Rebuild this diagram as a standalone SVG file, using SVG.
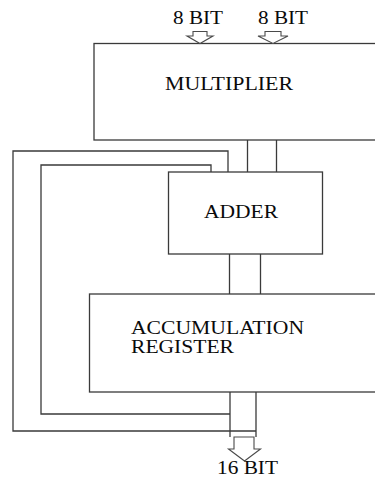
<svg xmlns="http://www.w3.org/2000/svg" width="375" height="479" viewBox="0 0 375 479">
  <style>
    .box { fill: #ffffff; stroke: #3a3a3a; stroke-width: 1.3; }
    .wire { fill: none; stroke: #3a3a3a; stroke-width: 1.3; }
    .bus { fill: #ffffff; stroke: #4a4a4a; stroke-width: 1.1; stroke-linejoin: miter; }
    .lbl { font-family: "Liberation Serif", "Times New Roman", serif; font-size: 18.5px; fill: #0a0a0a; }
  </style>
  <rect width="375" height="479" fill="#ffffff"/>

  <!-- feedback and data wiring -->
  <g id="connectors">
    <!-- multiplier to adder -->
    <line class="wire" x1="247.5" y1="140" x2="247.5" y2="172"/>
    <line class="wire" x1="276.5" y1="140" x2="276.5" y2="172"/>
    <!-- adder to accumulation register -->
    <line class="wire" x1="229.5" y1="254" x2="229.5" y2="294"/>
    <line class="wire" x1="260.5" y1="254" x2="260.5" y2="294"/>
    <!-- register outputs -->
    <line class="wire" x1="230" y1="392" x2="230" y2="437"/>
    <line class="wire" x1="256" y1="392" x2="256" y2="437"/>
    <!-- outer feedback loop -->
    <polyline class="wire" points="228,172 228,151 13,151 13,431 256,431"/>
    <!-- inner feedback loop -->
    <polyline class="wire" points="211,172 211,165 41,165 41,414 230,414"/>
  </g>

  <g id="multiplier">
    <rect class="box" x="94" y="43.5" width="300" height="96.5"/>
    <text class="lbl" x="165" y="90" textLength="128" lengthAdjust="spacingAndGlyphs">MULTIPLIER</text>
  </g>

  <g id="input-a">
    <text class="lbl" x="173" y="23.5" textLength="50" lengthAdjust="spacingAndGlyphs">8 BIT</text>
    <polygon class="bus" points="193,31.5 207,31.5 207,36 213,36 200,43.5 187,36 193,36"/>
  </g>

  <g id="input-b">
    <text class="lbl" x="258" y="23.5" textLength="50" lengthAdjust="spacingAndGlyphs">8 BIT</text>
    <polygon class="bus" points="265,31.5 281,31.5 281,36 288,36 273,43.5 258,36 265,36"/>
  </g>

  <g id="adder">
    <rect class="box" x="168.5" y="172" width="154" height="82"/>
    <text class="lbl" x="204" y="217.5" textLength="74" lengthAdjust="spacingAndGlyphs">ADDER</text>
  </g>

  <g id="accumulation-register">
    <rect class="box" x="89.5" y="294" width="300" height="98"/>
    <text class="lbl" x="131" y="333.5" textLength="173" lengthAdjust="spacingAndGlyphs">ACCUMULATION</text>
    <text class="lbl" x="131" y="352.5" textLength="103" lengthAdjust="spacingAndGlyphs">REGISTER</text>
  </g>

  <g id="output">
    <polygon class="bus" points="234,437 254,437 254,449 260.5,449 244.5,461 228.5,449 234,449"/>
    <text class="lbl" x="217" y="473.5" textLength="61" lengthAdjust="spacingAndGlyphs">16 BIT</text>
  </g>
</svg>
